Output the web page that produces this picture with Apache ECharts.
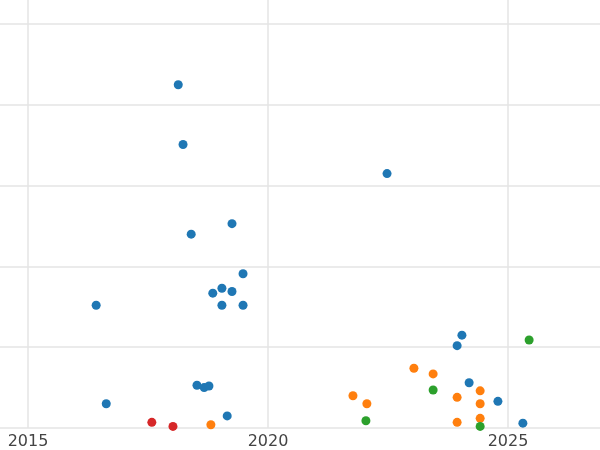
<!DOCTYPE html>
<html><head><meta charset="utf-8">
<script src="https://cdn.jsdelivr.net/npm/echarts@6/dist/echarts.min.js"></script>
<style>html,body{margin:0;padding:0}#c{width:600px;height:450px}</style>
</head><body><div id="c"></div>
<script>
const xTicks = [2015,2020,2025];
const yTicks = [0,1,2,3,4,5];
const blue = [[2018.13,4.25],[2018.23,3.51],[2022.48,3.15],[2018.40,2.40],[2019.25,2.53],[2019.48,1.91],[2016.42,1.52],[2018.85,1.67],[2019.04,1.73],[2019.25,1.69],[2019.04,1.52],[2019.48,1.52],[2024.04,1.15],[2023.94,1.02],[2018.52,0.53],[2018.67,0.50],[2018.77,0.52],[2024.19,0.56],[2016.63,0.30],[2024.79,0.33],[2019.15,0.15],[2025.31,0.06]];
const red = [[2017.58,0.07],[2018.02,0.02]];
const orange = [[2018.81,0.04],[2021.77,0.40],[2022.06,0.30],[2023.04,0.74],[2023.44,0.67],[2023.94,0.38],[2024.42,0.46],[2024.42,0.30],[2024.42,0.12],[2023.94,0.07]];
const green = [[2025.44,1.09],[2023.44,0.47],[2022.04,0.09],[2024.42,0.02]];
const mk=(d,c)=>({type:'scatter',data:d,symbolSize:9,itemStyle:{color:c,opacity:1},clip:true});
const chart=echarts.init(document.getElementById('c'));
chart.setOption({
 animation:false,
 grid:{left:0,right:0,top:0,bottom:22,containLabel:false},
 xAxis:{type:'value',min:2014.4167,max:2026.9167,axisLine:{show:false},
  axisTick:{show:false,customValues:xTicks},
  axisLabel:{fontSize:16,color:'#444',margin:6,fontFamily:'DejaVu Sans',customValues:xTicks,formatter:v=>String(v)},
  splitLine:{lineStyle:{color:'#e5e5e5',width:1.5}}},
 yAxis:{type:'value',min:0,max:5.30,axisLine:{show:false},
  axisTick:{show:false,customValues:yTicks},axisLabel:{show:false,customValues:yTicks},
  splitLine:{lineStyle:{color:'#e5e5e5',width:1.5}}},
 series:[mk(blue,'#1f77b4'),mk(red,'#d62728'),mk(orange,'#ff7f0e'),mk(green,'#2ca02c')]
});
</script></body></html>
